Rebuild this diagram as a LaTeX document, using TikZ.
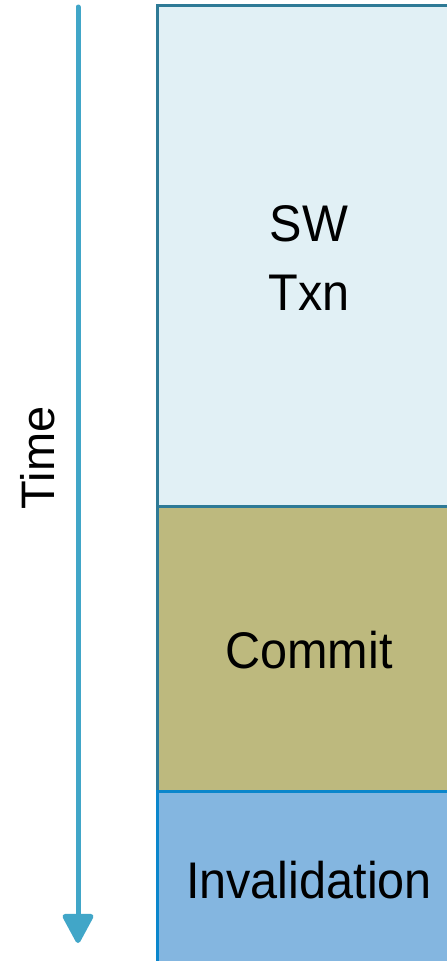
\documentclass[tikz,border=0pt]{standalone}
\usepackage{fontspec}
\setmainfont{Liberation Sans}
\usetikzlibrary{arrows.meta}
\definecolor{arrowc}{RGB}{65,166,200}
\definecolor{tealb}{RGB}{46,122,150}
\definecolor{swfill}{RGB}{225,240,245}
\definecolor{cmfill}{RGB}{189,185,126}
\definecolor{invfill}{RGB}{132,182,224}
\definecolor{invb}{RGB}{10,134,204}
\newcommand{\talltext}[1]{\scalebox{1}[1.06]{#1}}
\tikzset{
  phase/.style={rectangle, line width=3pt, minimum width=304pt, align=center, inner sep=0pt,
    font=\fontsize{48.6}{69}\selectfont},
}
\begin{document}
\begin{tikzpicture}[x=1pt,y=-1pt]
\clip (0,0) rectangle (447,961);
\node[phase, draw=tealb, fill=swfill, minimum height=501pt] (sw) at (309,255.5) {};
\node[phase, draw=tealb, fill=cmfill, minimum height=285pt] (cm) at (309,648.5) {};
\node[phase, draw=invb, fill=invfill, minimum height=179pt] (inv) at (309,880.5) {};
\node[font=\fontsize{48.6}{69}\selectfont, align=center, inner sep=0pt] (swt) at (309,258) {\talltext{SW}\\\talltext{Txn}};
\node[font=\fontsize{48.6}{69}\selectfont, inner sep=0pt] (cmt) at (309,650.5) {\talltext{Commit}};
\node[font=\fontsize{48.6}{69}\selectfont, inner sep=0pt] (invt) at (309,880) {\talltext{Invalidation}};
\coordinate (tstart) at (78,7);
\coordinate (tend) at (78,943);
\draw[arrowc, line width=5pt, line cap=round, -{Triangle[width=33pt,length=32pt,round=false]}] (tstart) -- (tend);
\node[rotate=90, font=\fontsize{47}{56}\selectfont] (time) at (38,458) {Time};
\end{tikzpicture}
\end{document}
